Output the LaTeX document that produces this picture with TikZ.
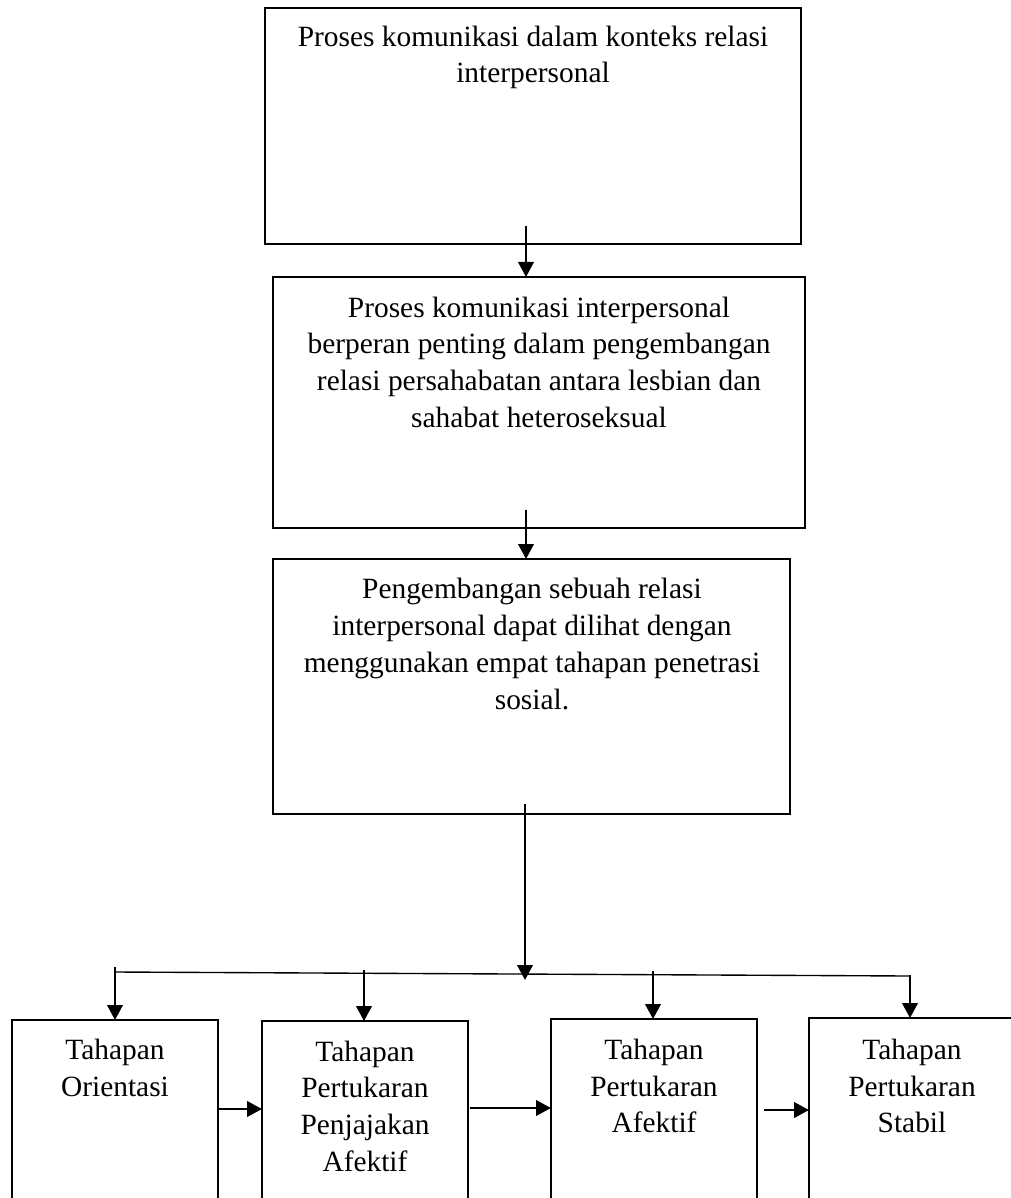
\documentclass[tikz,border=0pt]{standalone}
\usepackage{fontspec}
\setmainfont{Liberation Serif}
\usetikzlibrary{arrows.meta}
\begin{document}
\begin{tikzpicture}[x=0.4pt,y=-0.4pt,
  box/.style={draw, line width=0.8pt, inner sep=0pt, outer sep=0pt},
  sbox/.style={box, minimum width=82.4pt, minimum height=90pt, anchor=north},
  txt/.style={align=center, inner sep=0pt, font=\fontsize{11.76}{14.68}\selectfont},
  arr/.style={line width=1pt, -{Triangle[length=6pt,width=6.2pt]}},
  thinline/.style={line width=0.55pt}]
\useasboundingbox (0,0) rectangle (1011,1198);
\clip (0,0) rectangle (1011,1198);
\fill[white] (0,0) rectangle (1011,1198);

% main boxes
\node[box, minimum width=214.4pt, minimum height=94.4pt] (b1) at (533,126) {};
\node[box, minimum width=212.8pt, minimum height=100.4pt] (b2) at (539,402.5) {};
\node[box, minimum width=206.8pt, minimum height=102pt] (b3) at (531.5,686.5) {};

\node[txt] (t1) at (533,57.5) {Proses komunikasi dalam konteks relasi\\interpersonal};
\node[txt] (t2) at (539,362) {Proses komunikasi interpersonal\\berperan penting dalam pengembangan\\relasi persahabatan antara lesbian dan\\sahabat heteroseksual};
\node[txt] (t3) at (532,644) {Pengembangan sebuah relasi\\interpersonal dapat dilihat dengan\\menggunakan empat tahapan penetrasi\\sosial.};

% stage boxes
\node[sbox] (B1) at (115,1020) {};
\node[sbox] (B2) at (365,1021) {};
\node[sbox] (B3) at (654,1019) {};
\node[sbox] (B4) at (912,1018) {};

\node[txt] (s1) at (115,1068) {Tahapan\\Orientasi};
\node[txt] (s2) at (365,1106) {Tahapan\\Pertukaran\\Penjajakan\\Afektif};
\node[txt] (s3) at (654,1086) {Tahapan\\Pertukaran\\Afektif};
\node[txt] (s4) at (912,1086) {Tahapan\\Pertukaran\\Stabil};

% vertical connectors
\coordinate (a1s) at (526,226);
\draw[arr] (a1s) -- (a1s |- b2.north);
\coordinate (a2s) at (526,510);
\draw[arr] (a2s) -- (a2s |- b3.north);
\coordinate (trs) at (525,804);
\coordinate (trt) at (525,980);
\draw[arr] (trs) -- (trt);

% distribution line
\coordinate (hl) at (115,972);
\coordinate (hr) at (910,976);
\draw[thinline] (hl) -- (hr);

\coordinate (d1) at (115,967);
\coordinate (d2) at (364,970);
\coordinate (d3) at (653,971);
\coordinate (d4) at (910,975);
\draw[arr] (d1) -- (d1 |- B1.north);
\draw[arr] (d2) -- (d2 |- B2.north);
\draw[arr] (d3) -- (d3 |- B3.north);
\draw[arr] (d4) -- (d4 |- B4.north);

% horizontal connectors
\coordinate (h1) at (218,1109);
\coordinate (h2) at (470,1108);
\coordinate (h3) at (764,1110);
\draw[arr] (h1) -- (h1 -| B2.west);
\draw[arr] (h2) -- (h2 -| B3.west);
\draw[arr] (h3) -- (h3 -| B4.west);
\end{tikzpicture}
\end{document}
